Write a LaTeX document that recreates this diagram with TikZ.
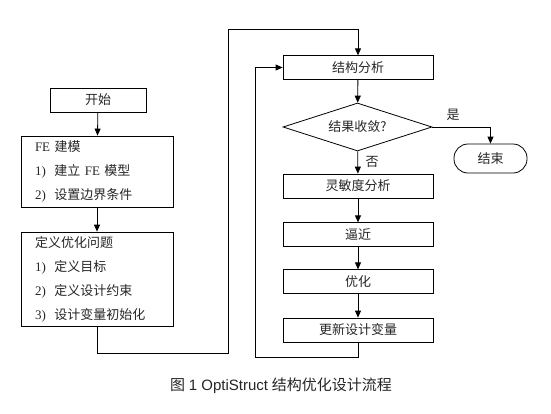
\documentclass[tikz,border=0pt]{standalone}
\usepackage{fontspec}
\setmainfont{Liberation Serif}
\newfontfamily\cjk{Noto Sans CJK SC}
\newfontfamily\capsans{Liberation Sans}
\usetikzlibrary{shapes.geometric,arrows.meta}
\begin{document}
\begin{tikzpicture}[x=1pt,y=-1pt,
  every node/.style={font=\fontsize{13}{14}\selectfont, text=black!85},
  box/.style={draw, line width=0.8pt, inner sep=0pt, minimum width=150pt, minimum height=23.5pt},
  listbox/.style={draw, line width=0.8pt, inner sep=0pt, minimum width=152pt, text width=124pt, align=left,
     font=\fontsize{13}{24}\selectfont},
  link/.style={line width=0.8pt, -{Triangle[length=7pt,width=6pt]}},
  plain/.style={line width=0.8pt},
  lbl/.style={inner sep=0pt}]
\useasboundingbox (0,0) rectangle (551,413);
% left column
\node[box, minimum width=96pt, minimum height=24pt] (start) at (98,100) {\cjk 开始};
\node[listbox, minimum height=71pt] (fe) at (97,171.5)
  {FE {\cjk 建模}\\1)\ \ {\cjk 建立} FE {\cjk 模型}\\2)\ \ {\cjk 设置边界条件}};
\node[listbox, minimum height=94pt] (def) at (97,279)
  {{\cjk 定义优化问题}\\1)\ \ {\cjk 定义目标}\\2)\ \ {\cjk 定义设计约束}\\3)\ \ {\cjk 设计变量初始化}};
% right column
\node[box] (ana) at (358,67.5) {\cjk 结构分析};
\node[diamond, draw, line width=0.8pt, inner sep=0pt, aspect=3.1, minimum width=149pt, minimum height=48pt] (dia) at (357.5,127) {\cjk 结果收敛?};
\node[box, minimum height=24pt] (sens) at (358,186) {\cjk 灵敏度分析};
\node[box] (appr) at (358,234.5) {\cjk 逼近};
\node[box] (opt) at (358,281.5) {\cjk 优化};
\node[box, minimum height=24pt] (upd) at (358,330) {\cjk 更新设计变量};
\node[draw, line width=0.8pt, rounded corners=14pt, minimum width=73pt, minimum height=29pt, inner sep=0pt] (end) at (490.5,158.5) {\cjk 结束};
% labels
\node[lbl] (yes) at (453,115) {\cjk 是};
\node[lbl] (no) at (372,162) {\cjk 否};
% corner coordinates
\coordinate (c1) at (97,353);
\coordinate (c2) at (228,353);
\coordinate (c3) at (228,29);
\coordinate (c4) at (358,29);
\coordinate (d1) at (358,357);
\coordinate (d2) at (255,357);
\coordinate (d3) at (255,67.5);
% connectors
\draw[link] (start) -- (fe);
\draw[link] (fe) -- (def);
\draw[link] (def.south) -- (c1) -- (c2) -- (c3) -- (c4) -- (ana.north);
\draw[link] (ana) -- (dia);
\draw[link] (dia.east) -| (end.north);
\draw[link] (dia) -- (sens);
\draw[link] (sens) -- (appr);
\draw[link] (appr) -- (opt);
\draw[link] (opt) -- (upd);
\draw[link] (upd.south) -- (d1) -- (d2) -- (d3) -- (ana.west);
% caption
\node[lbl, font=\fontsize{15}{17}\selectfont] (cap) at (281,386) {{\cjk 图} {\capsans 1 OptiStruct} {\cjk 结构优化设计流程}};
\end{tikzpicture}
\end{document}
